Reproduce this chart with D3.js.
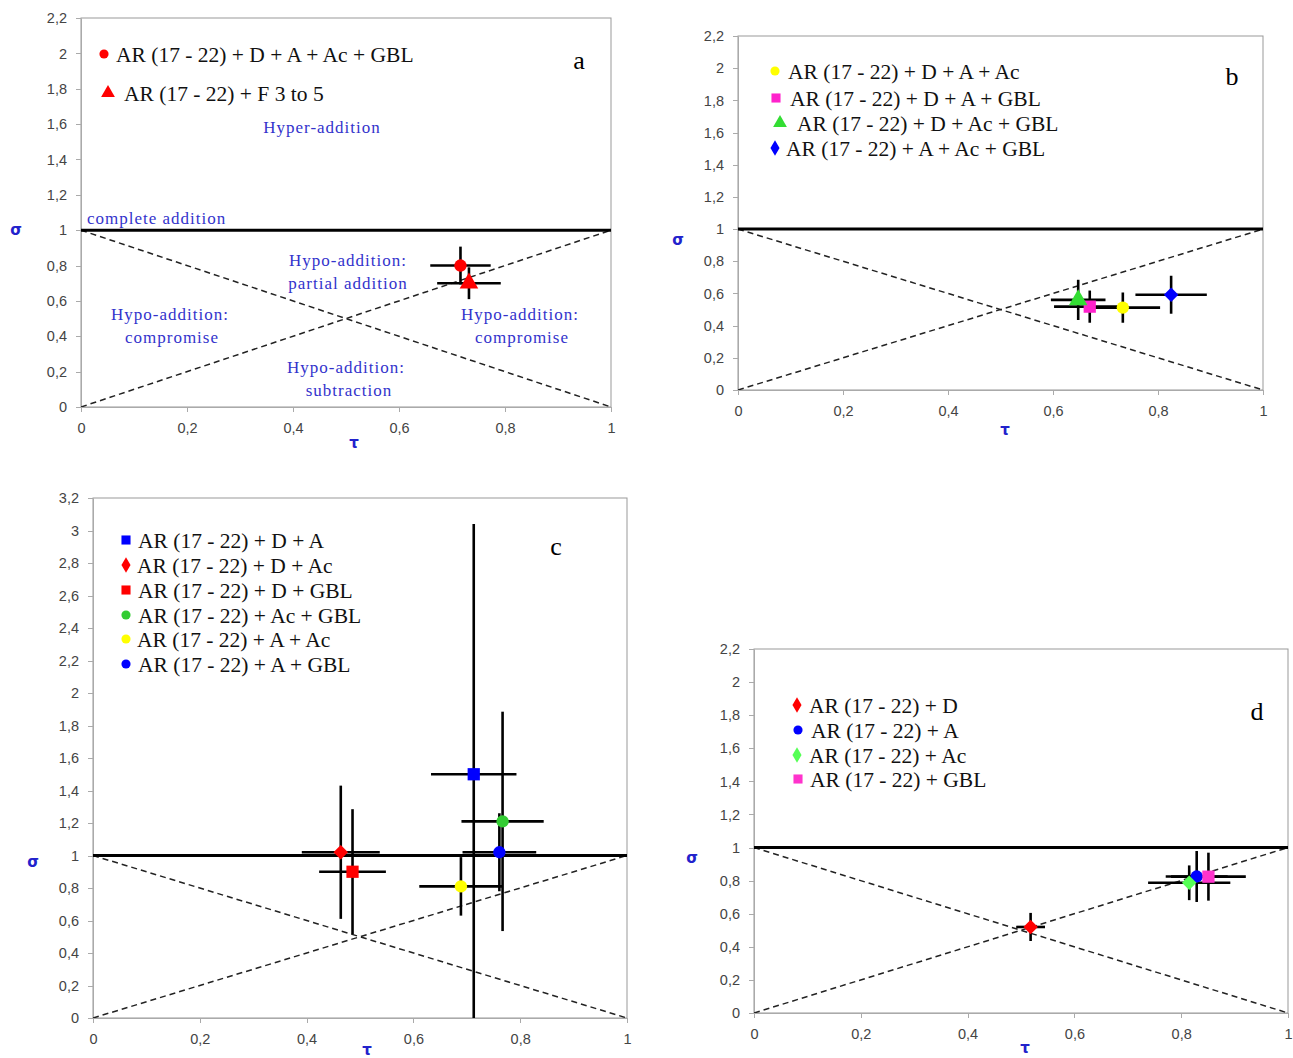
<!DOCTYPE html>
<meta charset="utf-8">
<style>
body { margin: 0; background: #fff; }
svg { display: block; }
.axis path, .axis line { stroke: #aaa; shape-rendering: crispEdges; }
.axis text { fill: #444; font: 14.5px "Liberation Sans", Arial, sans-serif; }
.legend text { font: 21.5px "Liberation Serif", "Times New Roman", serif; fill: #111; }
.note { font: 17px "Liberation Serif", "Times New Roman", serif; fill: #3333cc; letter-spacing: 1px; }
</style>
<body>
<div id="chart"></div>
<script src="https://d3js.org/d3.v7.min.js"></script>
<script>
// tick values shared by the panels
var tauTicks = [0, 0.2, 0.4, 0.6, 0.8, 1];
var sigmaTicks22 = [0, 0.2, 0.4, 0.6, 0.8, 1, 1.2, 1.4, 1.6, 1.8, 2, 2.2];
var sigmaTicks32 = [0, 0.2, 0.4, 0.6, 0.8, 1, 1.2, 1.4, 1.6, 1.8, 2, 2.2, 2.4, 2.6, 2.8, 3, 3.2];

// panel a
var namesA = ["AR (17 - 22) + D + A + Ac + GBL", "AR (17 - 22) + F 3 to 5"];
var tauA = [0.716, 0.732];
var sigmaA = [0.80, 0.70];
var tauErrA = [0.057, 0.06];
var sigmaErrA = [0.107, 0.09];
var colorsA = ["#ff0000", "#ff0000"];
var shapesA = ["circle", "triangle"];

// panel b
var namesB = ["AR (17 - 22) + D + A + Ac", "AR (17 - 22) + D + A + GBL", "AR (17 - 22) + D + Ac + GBL", "AR (17 - 22) + A + Ac + GBL"];
var tauB = [0.733, 0.670, 0.648, 0.825];
var sigmaB = [0.512, 0.518, 0.56, 0.592];
var tauErrB = [0.071, 0.068, 0.052, 0.068];
var sigmaErrB = [0.094, 0.10, 0.125, 0.118];
var colorsB = ["#ffff00", "#ff22cc", "#33dd33", "#0000ff"];
var shapesB = ["circle", "square", "triangle", "diamond"];

// panel c
var namesC = ["AR (17 - 22) + D + A", "AR (17 - 22) + D + Ac", "AR (17 - 22) + D + GBL", "AR (17 - 22) + Ac + GBL", "AR (17 - 22) + A + Ac", "AR (17 - 22) + A + GBL"];
var tauC = [0.713, 0.464, 0.486, 0.767, 0.689, 0.761];
var sigmaC = [1.50, 1.02, 0.90, 1.21, 0.81, 1.02];
var tauErrC = [0.08, 0.073, 0.0625, 0.077, 0.078, 0.069];
var sigmaErrC = [1.54, 0.41, 0.385, 0.675, 0.18, 0.24];
var colorsC = ["#0000ff", "#ff0000", "#ff0000", "#33cc33", "#ffff00", "#0000ff"];
var shapesC = ["square", "diamond", "square", "circle", "circle", "circle"];

// panel d
var namesD = ["AR (17 - 22) + D", "AR (17 - 22) + A", "AR (17 - 22) + Ac", "AR (17 - 22) + GBL"];
var tauD = [0.518, 0.829, 0.815, 0.851];
var sigmaD = [0.52, 0.825, 0.787, 0.824];
var tauErrD = [0.027, 0.058, 0.077, 0.07];
var sigmaErrD = [0.085, 0.154, 0.105, 0.145];
var colorsD = ["#ff0000", "#0000ff", "#55ff55", "#ff33cc"];
var shapesD = ["diamond", "circle", "diamond", "square"];

var W = 1293, H = 1058;
var svg = d3.select("#chart").append("svg").attr("width", W).attr("height", H);
svg.append("rect").attr("width", W).attr("height", H).attr("fill", "#fff");

var symbolTypes = {circle: d3.symbolCircle, square: d3.symbolSquare, triangle: d3.symbolTriangle, diamond: d3.symbolDiamond};
var plotSizes = {circle: 120, square: 150, triangle: 150, diamond: 130};
var fmt = function(d) { return String(+d.toFixed(1)).replace(".", ","); };

// plot markers: diamonds drawn as a turned square, like the spreadsheet marker
function plotSymbol(shape) {
  if (shape == "diamond") return d3.symbol().type(d3.symbolSquare).size(105)();
  return d3.symbol().type(symbolTypes[shape]).size(plotSizes[shape])();
}

function drawPanel(p) {
  var x = d3.scaleLinear().domain([0, 1]).range([p.left, p.right]);
  var y = d3.scaleLinear().domain([0, p.ymax]).range([p.bottom, p.top]);
  var g = svg.append("g");

  g.append("clipPath").attr("id", "clip" + p.id)
    .append("rect").attr("x", p.left).attr("y", p.top)
    .attr("width", p.right - p.left).attr("height", p.bottom - p.top);

  // frame
  g.append("rect").attr("x", p.left).attr("y", p.top)
    .attr("width", p.right - p.left).attr("height", p.bottom - p.top)
    .attr("fill", "none").attr("stroke", "#999").attr("stroke-width", 1);

  g.append("g").attr("class", "axis")
    .attr("transform", "translate(" + p.left + ",0)")
    .call(d3.axisLeft(y).tickValues(p.sigmaTicks).tickFormat(fmt).tickSize(5).tickSizeOuter(0).tickPadding(9));
  g.append("g").attr("class", "axis")
    .attr("transform", "translate(0," + p.bottom + ")")
    .call(d3.axisBottom(x).tickValues(tauTicks).tickFormat(fmt).tickSize(5).tickSizeOuter(0).tickPadding(11));
  g.selectAll(".axis .domain").attr("stroke", "#aaa");

  var plot = g.append("g").attr("clip-path", "url(#clip" + p.id + ")");

  // reference lines
  plot.append("line").attr("x1", x(0)).attr("x2", x(1)).attr("y1", y(1)).attr("y2", y(0))
    .attr("stroke", "#222").attr("stroke-width", 1.5).attr("stroke-dasharray", "6,4");
  plot.append("line").attr("x1", x(0)).attr("x2", x(1)).attr("y1", y(0)).attr("y2", y(1))
    .attr("stroke", "#222").attr("stroke-width", 1.5).attr("stroke-dasharray", "6,4");
  plot.append("line").attr("x1", x(0)).attr("x2", x(1)).attr("y1", y(1)).attr("y2", y(1))
    .attr("stroke", "#000").attr("stroke-width", 3);

  var data = p.names.map(function(n, i) {
    return {name: n, tau: p.tau[i], sigma: p.sigma[i], te: p.tauErr[i], se: p.sigmaErr[i], color: p.colors[i], shape: p.shapes[i]};
  });

  // error bars
  plot.selectAll(".hbar").data(data).enter().append("line")
    .attr("x1", d => x(d.tau - d.te)).attr("x2", d => x(d.tau + d.te))
    .attr("y1", d => y(d.sigma)).attr("y2", d => y(d.sigma))
    .attr("stroke", "#000").attr("stroke-width", 2.6);
  plot.selectAll(".vbar").data(data).enter().append("line")
    .attr("x1", d => x(d.tau)).attr("x2", d => x(d.tau))
    .attr("y1", d => y(d.sigma - d.se)).attr("y2", d => y(d.sigma + d.se))
    .attr("stroke", "#000").attr("stroke-width", 2.6);

  // markers
  plot.selectAll(".mark").data(data).enter().append("path")
    .attr("transform", d => "translate(" + x(d.tau) + "," + y(d.sigma) + ")" + (d.shape == "diamond" ? " rotate(45)" : ""))
    .attr("d", d => plotSymbol(d.shape))
    .attr("fill", d => d.color);

  // legend
  var leg = g.append("g").attr("class", "legend");
  data.forEach(function(d, i) {
    leg.append("path")
      .attr("transform", "translate(" + p.legMarkX[i] + "," + p.legY[i] + ")")
      .attr("d", d3.symbol().type(symbolTypes[d.shape]).size(plotSizes[d.shape] * 0.55)())
      .attr("fill", d.color);
    leg.append("text").attr("x", p.legTextX[i]).attr("y", p.legY[i]).attr("dy", "0.35em").text(d.name);
  });

  // panel letter
  g.append("text").attr("x", p.letter[0]).attr("y", p.letter[1]).attr("dy", "0.35em")
    .attr("text-anchor", "middle")
    .style("font", "26px 'Liberation Serif', 'Times New Roman', serif").text(p.id);

  // axis titles
  g.append("text").attr("x", p.sigmaPos[0]).attr("y", p.sigmaPos[1]).attr("dy", "0.35em")
    .attr("text-anchor", "middle").attr("fill", "#2222cc")
    .style("font", "bold 15px 'DejaVu Sans', sans-serif").text("σ");
  g.append("text").attr("x", p.tauPos[0]).attr("y", p.tauPos[1]).attr("dy", "0.35em")
    .attr("text-anchor", "middle").attr("fill", "#2222cc")
    .style("font", "bold 15px 'DejaVu Sans', sans-serif").text("τ");

  return g;
}

var gA = drawPanel({id: "a", left: 81, right: 611, top: 18, bottom: 407, ymax: 2.2, sigmaTicks: sigmaTicks22,
  names: namesA, tau: tauA, sigma: sigmaA, tauErr: tauErrA, sigmaErr: sigmaErrA, colors: colorsA, shapes: shapesA,
  legMarkX: [104, 108], legTextX: [116, 124], legY: [54, 93],
  letter: [579, 60], sigmaPos: [16, 230], tauPos: [354, 443]});

drawPanel({id: "b", left: 738, right: 1263, top: 36, bottom: 390, ymax: 2.2, sigmaTicks: sigmaTicks22,
  names: namesB, tau: tauB, sigma: sigmaB, tauErr: tauErrB, sigmaErr: sigmaErrB, colors: colorsB, shapes: shapesB,
  legMarkX: [775, 776, 780, 775], legTextX: [788, 790, 797, 786], legY: [71, 98, 123, 148],
  letter: [1232, 76], sigmaPos: [678, 240], tauPos: [1005, 430]});

drawPanel({id: "c", left: 93, right: 627, top: 498, bottom: 1018, ymax: 3.2, sigmaTicks: sigmaTicks32,
  names: namesC, tau: tauC, sigma: sigmaC, tauErr: tauErrC, sigmaErr: sigmaErrC, colors: colorsC, shapes: shapesC,
  legMarkX: [126, 126, 126, 126, 126, 126], legTextX: [138, 137, 138, 138, 137, 138], legY: [540, 565, 590, 615, 639, 664],
  letter: [556, 546], sigmaPos: [33, 862], tauPos: [367, 1050]});

drawPanel({id: "d", left: 754, right: 1288, top: 649, bottom: 1013, ymax: 2.2, sigmaTicks: sigmaTicks22,
  names: namesD, tau: tauD, sigma: sigmaD, tauErr: tauErrD, sigmaErr: sigmaErrD, colors: colorsD, shapes: shapesD,
  legMarkX: [797, 798, 797, 798], legTextX: [809, 811, 809, 810], legY: [705, 730, 755, 779],
  letter: [1257, 711], sigmaPos: [692, 858], tauPos: [1025, 1048]});

// region notes of panel a
var notes = [
  {t: "Hyper-addition", x: 322, y: 127, a: "middle"},
  {t: "complete addition", x: 87, y: 218, a: "start"},
  {t: "Hypo-addition:", x: 348, y: 260, a: "middle"},
  {t: "partial addition", x: 348, y: 283, a: "middle"},
  {t: "Hypo-addition:", x: 170, y: 314, a: "middle"},
  {t: "compromise", x: 172, y: 337, a: "middle"},
  {t: "Hypo-addition:", x: 520, y: 314, a: "middle"},
  {t: "compromise", x: 522, y: 337, a: "middle"},
  {t: "Hypo-addition:", x: 346, y: 367, a: "middle"},
  {t: "subtraction", x: 349, y: 390, a: "middle"}
];
gA.selectAll(".note").data(notes).enter().append("text").attr("class", "note")
  .attr("x", d => d.x).attr("y", d => d.y).attr("dy", "0.35em")
  .attr("text-anchor", d => d.a).text(d => d.t);
</script>
</body>
